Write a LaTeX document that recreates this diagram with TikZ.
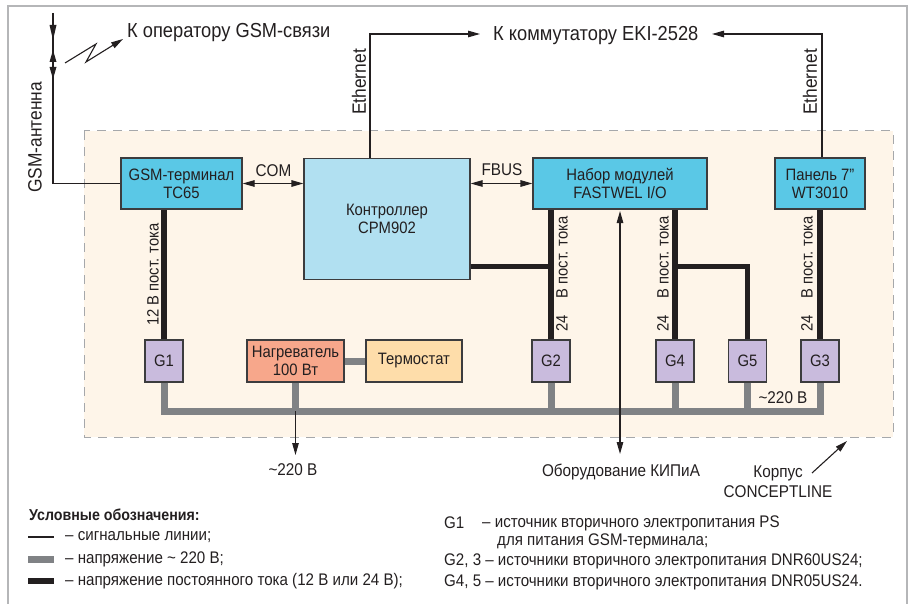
\documentclass[tikz,border=0pt]{standalone}
\usepackage{fontspec}
\setmainfont[FakeStretch=0.9]{Liberation Sans}
\usetikzlibrary{arrows.meta}
\definecolor{casefill}{HTML}{FEF5E9}
\definecolor{casedash}{HTML}{A6A8AB}
\definecolor{framegray}{HTML}{B5B6B8}
\definecolor{boxline}{HTML}{3C3C3E}
\definecolor{cyanbox}{HTML}{5AC8E6}
\definecolor{lightcyan}{HTML}{B1E0F1}
\definecolor{lilacbox}{HTML}{C9BBDD}
\definecolor{salmonbox}{HTML}{F7A78B}
\definecolor{sandbox}{HTML}{FEDDAA}
\definecolor{acgray}{HTML}{808285}
\definecolor{dcblack}{HTML}{231F20}
\begin{document}
\begin{tikzpicture}[x=1pt,y=1pt]
\tikzstyle{every node}+=[inner sep=0pt,text=dcblack]
\tikzstyle{bigtext}=[font=\fontsize{20.3}{24}\selectfont]
\tikzstyle{midtext}=[font=\fontsize{17}{20}\selectfont]
\tikzstyle{smalltext}=[font=\fontsize{16.8}{18}\selectfont,anchor=west]
\tikzstyle{sidebig}=[font=\fontsize{19.3}{22}\selectfont,rotate=90,anchor=west]
\tikzstyle{sidetext}=[font=\fontsize{16.4}{18}\selectfont,rotate=90,anchor=west]
\tikzstyle{block}=[draw=boxline,line width=1.1pt,align=center,font=\fontsize{16.5}{18}\selectfont]
\tikzstyle{unitbox}=[block,fill=lilacbox,minimum width=38pt,minimum height=42pt]
\tikzstyle{signal}=[dcblack,line width=1.1pt]
\tikzstyle{tipend}=[signal,-{Triangle[length=12pt,width=6.5pt]}]
\tikzstyle{tipboth}=[signal,{Triangle[length=12pt,width=6.5pt]}-{Triangle[length=12pt,width=6.5pt]}]
\tikzstyle{acline}=[acgray,line width=7pt]
\tikzstyle{dcline}=[dcblack,line width=5.5pt]
\useasboundingbox (0,0) rectangle (912,-604);
\draw [framegray,line width=1.5pt] (8,-604) -- (8,-6) -- (907,-6) -- (907,-604);
\draw [casedash,fill=casefill,line width=1pt,dash pattern=on 9pt off 7pt] (84,-131) rectangle (893,-437);
\node [block,fill=cyanbox,minimum width=121pt,minimum height=51pt] (gsm) at (181.5,-183.5) {GSM-терминал\\TC65};
\node [block,fill=lightcyan,minimum width=166pt,minimum height=121pt] (ctrl) at (387,-219) {Контроллер\\CPM902};
\node [block,fill=cyanbox,minimum width=174pt,minimum height=51pt] (fastwel) at (620,-183.5) {Набор модулей\\FASTWEL I/O};
\node [block,fill=cyanbox,minimum width=90pt,minimum height=51pt] (panel) at (820,-183.5) {Панель 7"\\WT3010};
\node [unitbox] (g1) at (164,-361) {G1};
\node [unitbox] (g2) at (551,-361) {G2};
\node [unitbox] (g4) at (675,-361) {G4};
\node [unitbox] (g5) at (747.5,-361) {G5};
\node [unitbox] (g3) at (820,-361) {G3};
\node [block,fill=salmonbox,minimum width=97pt,minimum height=42pt] (heater) at (295.5,-361) {Нагреватель\\100 Вт};
\node [block,fill=sandbox,minimum width=96pt,minimum height=42pt] (thermo) at (414,-361) {Термостат};
\coordinate (busleft) at (164,-411);
\coordinate (busright) at (820,-411);
\coordinate (anttop) at (53,-13);
\coordinate (antbend) at (53,-183.5);
\coordinate (zigstart) at (65,-63);
\coordinate (zigup) at (96,-44);
\coordinate (zigdown) at (86,-62);
\coordinate (zigtip) at (123,-39);
\coordinate (ethleft) at (370,-34);
\coordinate (ethlefttip) at (480,-34);
\coordinate (ethright) at (822,-34);
\coordinate (ethrighttip) at (712,-34);
\coordinate (kipbottom) at (620,-454);
\coordinate (kiptop) at (620,-211);
\coordinate (hvtip) at (295.5,-455);
\coordinate (dcjoint) at (675,-266.5);
\coordinate (casestart) at (812,-473);
\coordinate (casetip) at (847,-441);
\draw [acline] (g1.south) -- (busleft) -- (busright) -- (g3.south);
\draw [acline] (heater.south) -- (heater.south |- busleft);
\draw [acline] (g2.south) -- (g2.south |- busleft);
\draw [acline] (g4.south) -- (g4.south |- busleft);
\draw [acline] (g5.south) -- (g5.south |- busleft);
\draw [acline] (heater.east) -- (thermo.west);
\draw [dcline] (g1.north) -- (g1.north |- gsm.south);
\draw [dcline] (g2.north) -- (g2.north |- fastwel.south);
\draw [dcline] (g4.north) -- (g4.north |- fastwel.south);
\draw [dcline] (g3.north) -- (g3.north |- panel.south);
\draw [dcline] (ctrl.east |- dcjoint) -- (g2.north |- dcjoint);
\draw [dcline,line width=4.5pt] (dcjoint) -| (g5.north);
\draw [signal] (anttop) -- (antbend) -- (gsm.west);
\fill [dcblack] (53,-40) -- (49.5,-25) -- (56.5,-25);
\fill [dcblack] (53,-50) -- (49.5,-62) -- (56.5,-62);
\fill [dcblack] (53,-79) -- (49.5,-67) -- (56.5,-67);
\draw [tipend] (zigstart) -- (zigup) -- (zigdown) -- (zigtip);
\draw [tipend] (ctrl.north -| ethleft) -- (ethleft) -- (ethlefttip);
\draw [tipend] (panel.north -| ethright) -- (ethright) -- (ethrighttip);
\draw [tipboth] (gsm.east) -- (gsm.east -| ctrl.west);
\draw [tipboth] (fastwel.west -| ctrl.east) -- (fastwel.west);
\draw [tipboth] (kipbottom) -- (kiptop);
\draw [tipend] (heater.south |- busleft) -- (hvtip);
\draw [tipend] (casestart) -- (casetip);
\node [bigtext,anchor=west] (lbloper) at (127,-33) {К оператору GSM-связи};
\node [bigtext,anchor=west] (lblswitch) at (493,-36) {К коммутатору EKI-2528};
\node [sidebig] (lblant) at (35,-193) {GSM-антенна};
\node [sidebig] (lbletha) at (359,-115) {Ethernet};
\node [sidebig] (lblethb) at (810,-115) {Ethernet};
\node [sidetext] (lbldca) at (153,-326) {12 В пост. тока};
\node [sidetext] (lbldcb) at (562,-332) {24\hskip 17pt В пост. тока};
\node [sidetext] (lbldcc) at (663,-332) {24\hskip 17pt В пост. тока};
\node [sidetext] (lbldcd) at (807,-332) {24\hskip 17pt В пост. тока};
\node [midtext] (lblcom) at (273.5,-171) {COM};
\node [midtext] (lblfbus) at (502,-170) {FBUS};
\node [midtext] (lblac) at (783,-398) {\textasciitilde220 В};
\node [midtext] (lblhv) at (293,-470) {\textasciitilde220 В};
\node [midtext] (lblkip) at (621,-472) {Оборудование КИПиА};
\node [midtext,align=center] (lblcase) at (778,-482) {Корпус\\CONCEPTLINE};
\node [smalltext,font=\fontsize{15.8}{18}\selectfont] (lgdtitle) at (29,-515) {\bfseries Условные обозначения:};
\coordinate (lgdaa) at (28,-537);
\coordinate (lgdab) at (54,-537);
\coordinate (lgdba) at (28,-559);
\coordinate (lgdbb) at (54,-559);
\coordinate (lgdca) at (28,-581);
\coordinate (lgdcb) at (54,-581);
\draw [signal] (lgdaa) -- (lgdab);
\draw [acline] (lgdba) -- (lgdbb);
\draw [dcline] (lgdca) -- (lgdcb);
\node [smalltext] (lgdsig) at (65,-537) {– сигнальные линии;};
\node [smalltext] (lgdac) at (65,-559) {– напряжение \textasciitilde{} 220 В;};
\node [smalltext] (lgddc) at (65,-581) {– напряжение постоянного тока (12 В или 24 В);};
\node [smalltext] (srca) at (444,-523) {G1};
\node [smalltext] (srcb) at (482,-523) {– источник вторичного электропитания PS};
\node [smalltext] (srcc) at (497,-541) {для питания GSM-терминала;};
\node [smalltext] (srcd) at (444,-561) {G2, 3 – источники вторичного электропитания DNR60US24;};
\node [smalltext] (srce) at (444,-582) {G4, 5 – источники вторичного электропитания DNR05US24.};
\end{tikzpicture}
\end{document}
